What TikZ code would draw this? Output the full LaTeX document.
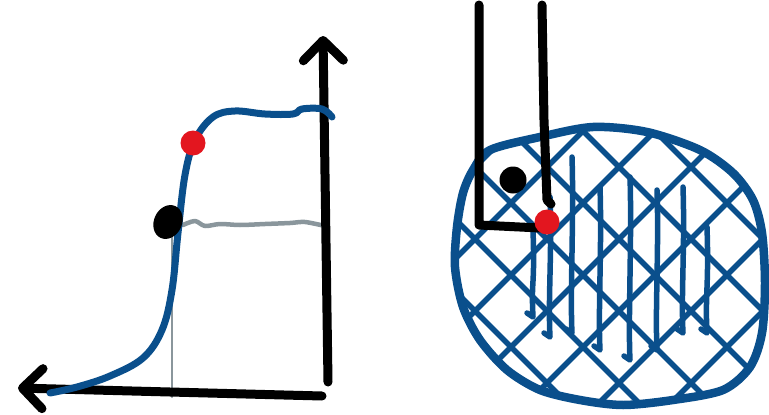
\documentclass[tikz,border=0pt]{standalone}
\usepackage{tikz}
\usetikzlibrary{arrows.meta,shapes.geometric}
\definecolor{inkblue}{HTML}{0A4F8C}
\definecolor{inkred}{HTML}{E3161F}
\definecolor{inkgray}{HTML}{8A969C}
\tikzset{
    every picture/.style={line cap=round,line join=round},
    axisline/.style={draw=black,line width=9pt,
      -{Straight Barb[round,length=20pt,width=40pt]}},
    curveline/.style={draw=inkblue,line width=7pt},
    guideline/.style={draw=inkgray,line width=4.5pt},
    dropline/.style={draw=inkgray,line width=2.2pt},
    hatchline/.style={draw=inkblue,line width=5.5pt},
    rimline/.style={draw=inkblue,line width=8.5pt},
    probeline/.style={draw=black,line width=9pt},
    reddot/.style={circle,fill=inkred,minimum size=25pt,inner sep=0pt},
    blackdot/.style={ellipse,fill=black,minimum width=28pt,minimum height=35pt,
      inner sep=0pt,rotate=-25},
    smalldot/.style={circle,fill=black,minimum size=27pt,inner sep=0pt}
}
\begin{document}
\begin{tikzpicture}[x=1pt,y=-1pt]
  \useasboundingbox (0,0) rectangle (769,415);
  % left: axes and response curve
  \coordinate (yfoot) at (328,382);
  \coordinate (ytip) at (323,36);
  \coordinate (xfoot) at (322,396);
  \coordinate (xtip) at (18,388);
  \coordinate (knee) at (172,226);
  \coordinate (rightend) at (325,226);
  \coordinate (floor) at (172,397);
  \draw[dropline] (knee) -- (floor);
  \draw[guideline] plot[smooth] coordinates {(183,225) (195,221) (205,226) (220,224)
    (240,225) (265,224) (290,223) (305,222) (325,226)};
  \draw[axisline] (yfoot) -- (ytip);
  \draw[axisline] (xfoot) -- (xtip);
  \draw[curveline] plot[smooth,tension=0.6] coordinates {(50,393) (77,387) (110,376)
    (143,358) (162,330) (172,290) (178,233) (185,175) (195,140) (213,117) (235,111)
    (265,114) (293,114) (302,109) (322,109) (332,117)};
  \node[blackdot] (lowpt) at (168,222) {};
  \node[reddot] (highpt) at (193,143) {};
  % right: hatched region and probe
  \begin{scope}
    \clip plot[smooth cycle] coordinates {(473,170) (490,150) (540,137) (593,127)
      (647,132) (700,150) (733,173) (753,200) (762,233) (765,283) (762,333)
      (750,367) (723,390) (673,400) (623,405) (580,400) (540,390) (507,370)
      (480,340) (463,307) (455,267) (457,227) (463,193)};
    \foreach \c in {20,92,...,660}
      \draw[hatchline] (\c+90,90) -- ++(340,340);
    \foreach \c in {570,642,...,1210}
      \draw[hatchline] (\c-90,90) -- ++(-340,340);
  \end{scope}
  \foreach \x/\top/\bot in {533/230/317,550/197/337,572/157/333,600/187/350,
      630/177/360,657/190/350,683/187/333,707/227/333}
    \draw[hatchline] (\x,\top) .. controls (\x+2,\top+60) and (\x-2,\bot-40) ..
      (\x,\bot) -- ++(-6,-4);
  \draw[rimline] plot[smooth cycle] coordinates {(473,170) (490,150) (540,137)
    (593,127) (647,132) (700,150) (733,173) (753,200) (762,233) (765,283)
    (762,333) (750,367) (723,390) (673,400) (623,405) (580,400) (540,390)
    (507,370) (480,340) (463,307) (455,267) (457,227) (463,193)};
  \coordinate (outertop) at (479,5);
  \coordinate (corner) at (479,225);
  \coordinate (tipend) at (540,228);
  \coordinate (innertop) at (542,5);
  \coordinate (innerend) at (547,200);
  \draw[probeline] (outertop) -- (corner) -- (tipend);
  \draw[probeline] (innertop) -- (544,120) -- (innerend) -- ++(4,4);
  \node[smalldot] (probept) at (513,180) {};
  \node[reddot] (contactpt) at (547,222) {};
\end{tikzpicture}
\end{document}
